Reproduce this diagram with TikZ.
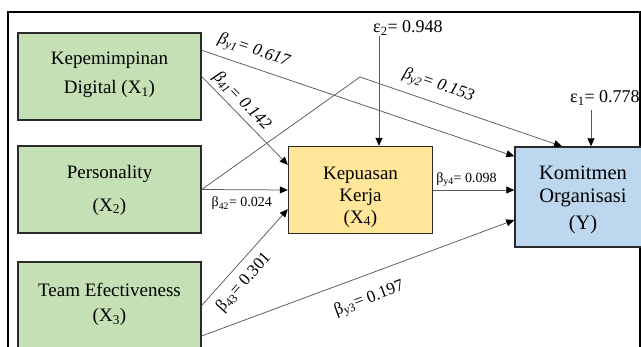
\documentclass[tikz,border=0pt]{standalone}
\usepackage{fontspec}
\setmainfont{Liberation Serif}
\usetikzlibrary{arrows.meta,calc}
\definecolor{boxgreen}{HTML}{C5E0B4}
\definecolor{boxyellow}{HTML}{FFE699}
\definecolor{boxblue}{HTML}{BDD7EE}
\definecolor{linegray}{HTML}{5A5A5A}
\definecolor{bordergray}{HTML}{2A2A2A}
\begin{document}
\begin{tikzpicture}[x=1pt,y=-1pt,
  box/.style={draw=bordergray, line width=1.4pt, inner sep=0pt},
  boxtext/.style={inner sep=0pt, align=center},
  conn/.style={draw=linegray, line width=0.75pt, -{Triangle[length=8pt,width=7pt,color=black]}},
  lbl/.style={inner sep=0pt, font=\fontsize{17}{17}\selectfont},
  lbls/.style={inner sep=0pt, font=\fontsize{14}{14}\selectfont},
  errlbl/.style={inner sep=0pt, font=\fontsize{18}{18}\selectfont}]
\useasboundingbox (0,0) rectangle (641,347);
\clip (0,0) rectangle (641,347);
\draw[line width=1.2pt] (8,12) rectangle (640,420);

% boxes
\node[box, fill=boxgreen, minimum width=183pt, minimum height=87pt] (X1) at (109.5,76.5) {};
\node[box, fill=boxgreen, minimum width=183pt, minimum height=87pt] (X2) at (109.5,189.5) {};
\node[box, fill=boxgreen, minimum width=183pt, minimum height=87pt] (X3) at (109.5,305.5) {};
\node[box, fill=boxyellow, minimum width=144pt, minimum height=87pt] (X4) at (360.5,190) {};
\node[box, fill=boxblue, minimum width=136pt, minimum height=100pt] (Y) at (583,197) {};

% box texts
\node[boxtext, font=\fontsize{19}{29}\selectfont] (X1t) at (109.5,75) {Kepemimpinan\\Digital (X\textsubscript{1})};
\node[boxtext, font=\fontsize{19}{33}\selectfont] (X2t) at (109.5,190) {Personality\\(X\textsubscript{2})};
\node[boxtext, font=\fontsize{19}{25}\selectfont] (X3t) at (109.5,304) {Team Efectiveness\\(X\textsubscript{3})};
\node[boxtext, font=\fontsize{19}{22}\selectfont] (X4t) at (360.5,197) {Kepuasan\\Kerja\\(X\textsubscript{4})};
\node[boxtext, font=\fontsize{20.5}{23}\selectfont] (Yt) at (583,200) {Komitmen\\Organisasi\\[4pt](Y)};

% helper coordinates
\coordinate (bend) at (360,77);
\coordinate (e2s) at (379,36);
\coordinate (e1s) at (591,110);

% connectors
\draw[conn] ($(X1.north east)+(0,18)$) -- node[lbl, sloped, pos=0.15, above=7pt] (l1) {\itshape β\textsubscript{y1}= 0.617} ($(Y.north west)+(0,10)$);
\draw[conn] (X1.east) -- node[lbl, sloped, pos=0.37, above=3.5pt] (l2) {\itshape β\textsubscript{41}= 0.142} ($(X4.north west)+(0,19)$);
\draw[conn] (X2.east) -- (bend) -- node[lbl, sloped, pos=0.36, above=8pt] (l3) {\itshape β\textsubscript{y2}= 0.153} ($(Y.north)+(-21,0)$);
\draw[conn] (X2.east) -- node[lbls, pos=0.466, below=7pt] (l4) {β\textsubscript{42}= 0.024} (X4.west);
\draw[conn] (X3.east) -- node[lbl, sloped, pos=0.35, below=8pt] (l5) {β\textsubscript{43}= 0.301} ($(X4.south west)+(0,-25)$);
\draw[conn] ($(X3.east)+(0,30.5)$) -- node[lbl, sloped, pos=0.51, below=15pt] (l6) {β\textsubscript{y3}= 0.197} ($(Y.west)+(0,23)$);
\draw[conn] (X4.east) -- node[lbls, pos=0.41, above=3pt] (l7) {β\textsubscript{y4}= 0.098} (X4.east -| Y.west);
\draw[conn] (e2s) -- ($(X4.north)+(18.5,0)$);
\draw[conn] (e1s) -- ($(Y.north)+(8,0)$);

% error terms
\node[errlbl, anchor=base west] (e2) at (373,33) {ε\textsubscript{2}= 0.948};
\node[errlbl, anchor=base west] (e1) at (570,103) {ε\textsubscript{1}= 0.778};
\end{tikzpicture}
\end{document}
